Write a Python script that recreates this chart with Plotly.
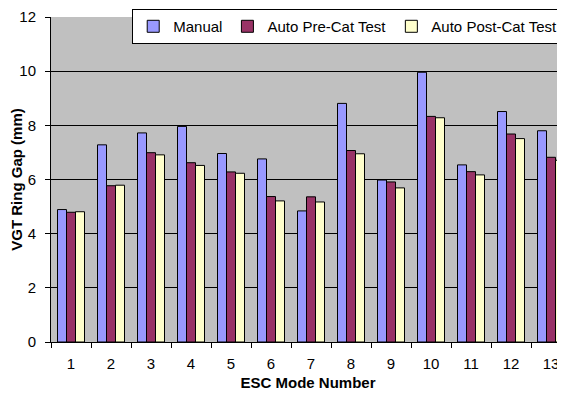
import plotly.graph_objects as go

modes = [str(i) for i in range(1, 14)]
manual = [4.89, 7.28, 7.72, 7.96, 6.96, 6.76, 4.84, 8.81, 5.98, 9.96, 6.54, 8.51, 7.80]
auto_pre = [4.79, 5.77, 6.99, 6.62, 6.28, 5.37, 5.36, 7.07, 5.91, 8.33, 6.29, 7.68, 6.82]
auto_post = [4.81, 5.79, 6.91, 6.52, 6.23, 5.21, 5.17, 6.95, 5.69, 8.28, 6.17, 7.51, 6.71]

series = [
    ("Manual", manual, "#9999FF"),
    ("Auto Pre-Cat Test", auto_pre, "#993366"),
    ("Auto Post-Cat Test", auto_post, "#FFFFCC"),
]

fig = go.Figure()
for name, vals, color in series:
    fig.add_trace(go.Bar(
        x=modes, y=vals, name=name,
        marker=dict(color=color, line=dict(color="black", width=1)),
    ))

font = "Liberation Sans, Arial, sans-serif"

# the page body adds an 8px margin, so the figure is sized to fit inside it
fig.update_layout(
    width=557, height=386,
    margin=dict(l=43, r=0, t=9, b=52, autoexpand=False),
    paper_bgcolor="white",
    plot_bgcolor="#C0C0C0",
    font=dict(family=font, size=15, color="black"),
    barmode="group",
    bargap=0.325,
    bargroupgap=0,
    showlegend=True,
    legend=dict(
        orientation="h",
        x=0.158, xanchor="left",
        y=1.0245, yanchor="top",
        bgcolor="white",
        bordercolor="black",
        borderwidth=1,
        font=dict(size=15),
        traceorder="normal",
    ),
)

fig.update_xaxes(
    type="category",
    range=[-0.5, 12.35],
    automargin=False,
    tickson="boundaries",
    ticks="outside", ticklen=5, tickcolor="black",
    ticklabelstandoff=8,
    showline=True, linecolor="black", linewidth=1,
    showgrid=False,
    title=dict(text="<b>ESC Mode Number</b>", font=dict(size=15), standoff=6),
)

fig.update_yaxes(
    range=[0, 12],
    automargin=False,
    tickvals=[0, 2, 4, 6, 8, 10, 12],
    ticks="outside", ticklen=5, tickcolor="black",
    ticklabelstandoff=6,
    showline=True, linecolor="black", linewidth=1,
    showgrid=True, gridcolor="black", gridwidth=1,
    zeroline=False,
    title=dict(text="<b>VGT Ring Gap (mm)</b>", font=dict(size=15), standoff=10),
)

fig.write_html("out.html")
